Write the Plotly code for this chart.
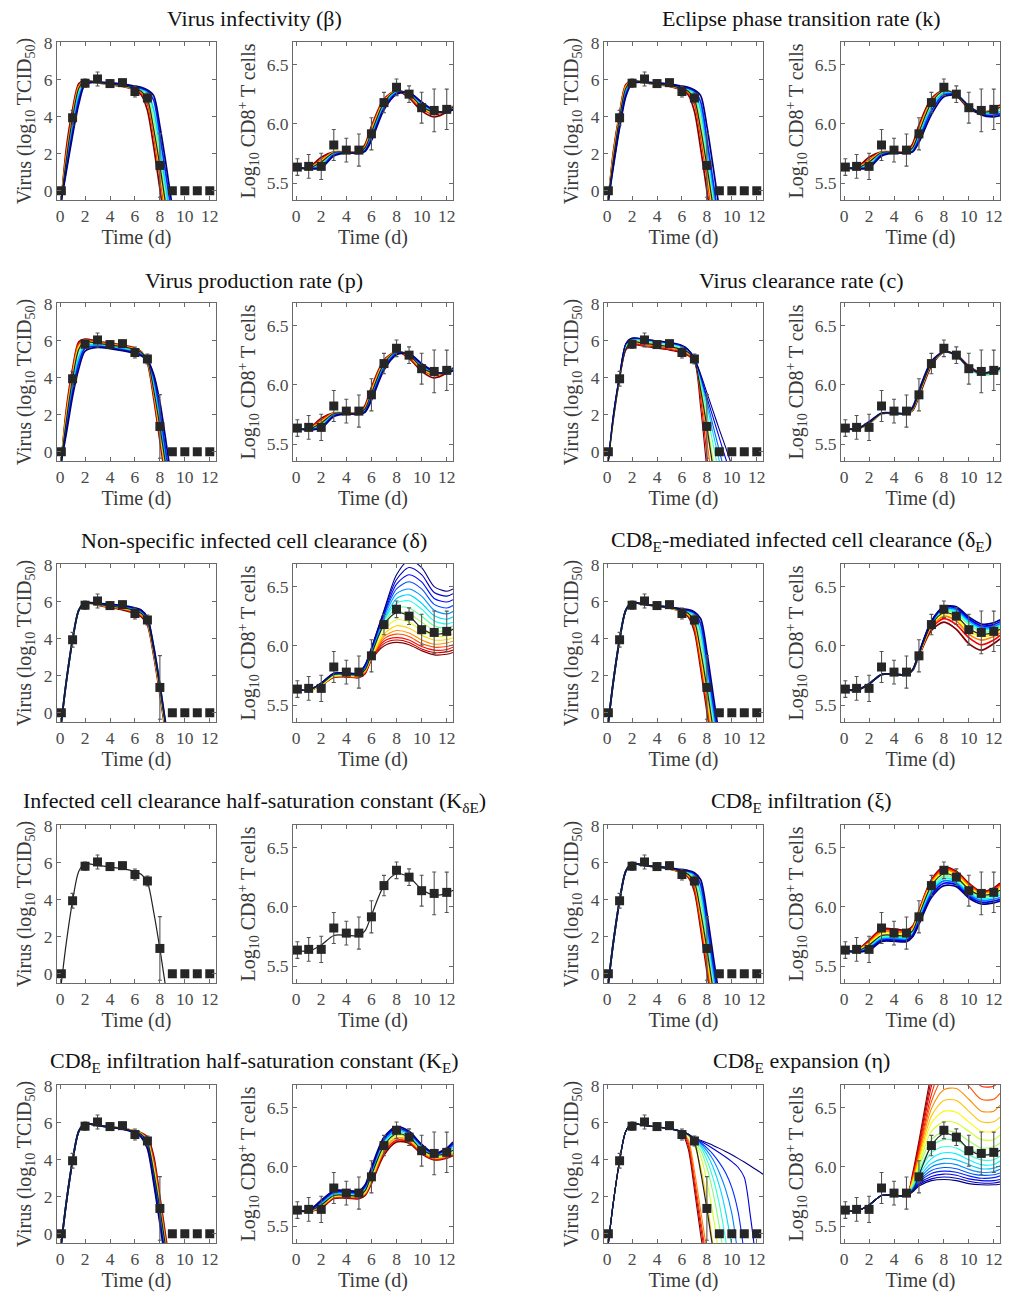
import plotly.graph_objects as go

# ---------------- data ----------------
T_DATA = [0.1, 1, 2, 3, 4, 5, 6, 7, 8, 9, 10, 11, 12]
VIRUS_DATA = [0.0, 3.95, 5.82, 6.05, 5.8, 5.85, 5.37, 5.02, 1.37, 0.0, 0.0, 0.0, 0.0]
VIRUS_ERR = [0.0, 0.4, 0.22, 0.38, 0.2, 0.18, 0.3, 0.27, 1.72, 0.0, 0.0, 0.0, 0.0]
CD8_DATA = [5.637, 5.643, 5.643, 5.823, 5.78, 5.78, 5.917, 6.18, 6.309, 6.251, 6.137, 6.114, 6.123]
CD8_ERR = [0.07, 0.1, 0.11, 0.13, 0.1, 0.135, 0.135, 0.086, 0.07, 0.07, 0.13, 0.18, 0.17]

# model time grids
TV = [0.1, 0.5, 1, 1.5, 2, 3, 4, 5, 6, 6.5, 7, 7.5, 8, 8.5, 9, 9.5, 10, 10.5, 11, 11.5, 12, 12.5]
TC = [0.1, 1, 2, 3, 4, 5, 5.5, 6, 7, 8, 9, 10, 11, 12, 12.5]

# best-fit model (black)
BASE_V = [-0.5, 1.7, 3.95, 5.55, 5.95, 5.86, 5.78, 5.69, 5.53, 5.38, 4.95, 3.35, 1.35, -0.9]
BASE_C = [5.632, 5.628, 5.68, 5.76, 5.762, 5.758, 5.80, 5.93, 6.18, 6.28, 6.25, 6.15, 6.10, 6.115, 6.14]

# sensitivity curves, listed from the red end to the blue end of the colour scale
BETA_V = [
    [-0.5, 2.3, 4.4, 5.8, 5.95, 5.84, 5.74, 5.64, 5.45, 5.2, 4.35, 2.4, 0.1, -2.2],
    [-0.5, 2.0, 4.15, 5.7, 5.95, 5.85, 5.76, 5.66, 5.5, 5.3, 4.7, 3.0, 0.8, -1.5],
    [-0.5, 1.8, 4.0, 5.6, 5.95, 5.86, 5.77, 5.68, 5.52, 5.36, 4.9, 3.3, 1.1, -1.2],
    [-0.5, 1.5, 3.7, 5.4, 5.9, 5.87, 5.79, 5.71, 5.56, 5.45, 5.15, 3.9, 1.8, -0.5, -2.8],
    [-0.5, 1.35, 3.45, 5.2, 5.85, 5.87, 5.8, 5.73, 5.6, 5.5, 5.3, 4.4, 2.4, 0.1, -2.2],
    [-0.5, 1.2, 3.2, 4.95, 5.8, 5.88, 5.82, 5.75, 5.63, 5.55, 5.4, 4.9, 3.0, 0.8, -1.5],
    [-0.5, 1.05, 3.0, 4.7, 5.75, 5.88, 5.83, 5.77, 5.66, 5.6, 5.45, 5.15, 3.5, 1.4, -0.9],
]
BETA_C = [
    [5.632, 5.632, 5.72, 5.765, 5.765, 5.765, 5.83, 5.98, 6.21, 6.28, 6.22, 6.11, 6.06, 6.10, 6.15],
    [5.632, 5.630, 5.70, 5.763, 5.763, 5.762, 5.815, 5.96, 6.20, 6.28, 6.235, 6.13, 6.08, 6.11, 6.145],
    [5.632, 5.628, 5.69, 5.762, 5.762, 5.760, 5.805, 5.945, 6.19, 6.28, 6.245, 6.14, 6.09, 6.115, 6.14],
    [5.632, 5.626, 5.665, 5.755, 5.76, 5.757, 5.79, 5.915, 6.165, 6.275, 6.255, 6.16, 6.10, 6.11, 6.135],
    [5.632, 5.625, 5.65, 5.75, 5.76, 5.755, 5.78, 5.90, 6.15, 6.27, 6.26, 6.17, 6.105, 6.105, 6.13],
    [5.632, 5.624, 5.64, 5.74, 5.758, 5.754, 5.775, 5.88, 6.135, 6.26, 6.265, 6.18, 6.11, 6.10, 6.125],
    [5.632, 5.623, 5.63, 5.73, 5.757, 5.753, 5.77, 5.86, 6.12, 6.25, 6.265, 6.185, 6.115, 6.10, 6.12],
]
K_V = [
    [-0.5, 2.1, 4.2, 5.75, 5.95, 5.85, 5.75, 5.65, 5.45, 5.2, 4.3, 2.3, 0.0, -2.3],
    [-0.5, 2.0, 4.1, 5.7, 5.95, 5.85, 5.76, 5.67, 5.5, 5.3, 4.7, 2.9, 0.7, -1.6],
    [-0.5, 1.8, 4.0, 5.6, 5.95, 5.86, 5.77, 5.68, 5.52, 5.37, 4.95, 3.3, 1.1, -1.2],
    [-0.5, 1.6, 3.8, 5.45, 5.9, 5.87, 5.79, 5.71, 5.56, 5.45, 5.15, 3.9, 1.7, -0.6, -2.9],
    [-0.5, 1.5, 3.65, 5.35, 5.88, 5.87, 5.8, 5.73, 5.6, 5.5, 5.3, 4.4, 2.3, 0.0, -2.3],
    [-0.5, 1.4, 3.5, 5.2, 5.85, 5.88, 5.82, 5.75, 5.63, 5.55, 5.4, 4.8, 2.8, 0.5, -1.8],
    [-0.5, 1.3, 3.4, 5.1, 5.8, 5.88, 5.83, 5.77, 5.66, 5.6, 5.45, 5.15, 3.5, 1.3, -1.0],
]
K_C = [
    [5.632, 5.632, 5.72, 5.765, 5.765, 5.765, 5.835, 5.99, 6.215, 6.285, 6.24, 6.13, 6.09, 6.13, 6.16],
    [5.632, 5.630, 5.70, 5.763, 5.763, 5.762, 5.815, 5.96, 6.20, 6.28, 6.245, 6.14, 6.095, 6.125, 6.15],
    [5.632, 5.628, 5.69, 5.762, 5.762, 5.760, 5.805, 5.945, 6.19, 6.28, 6.25, 6.145, 6.10, 6.12, 6.145],
    [5.632, 5.626, 5.665, 5.755, 5.76, 5.757, 5.785, 5.91, 6.16, 6.27, 6.25, 6.15, 6.095, 6.105, 6.125],
    [5.632, 5.625, 5.65, 5.748, 5.76, 5.755, 5.775, 5.89, 6.14, 6.26, 6.25, 6.15, 6.09, 6.09, 6.105],
    [5.632, 5.624, 5.64, 5.74, 5.758, 5.754, 5.77, 5.87, 6.11, 6.245, 6.245, 6.15, 6.08, 6.075, 6.085],
    [5.632, 5.623, 5.63, 5.73, 5.757, 5.753, 5.765, 5.845, 6.08, 6.23, 6.24, 6.15, 6.075, 6.06, 6.07],
]
P_V = [
    [-0.5, 2.3, 4.5, 5.95, 6.1, 5.98, 5.88, 5.78, 5.6, 5.42, 4.8, 2.9, 0.6, -1.7],
    [-0.5, 2.1, 4.3, 5.85, 6.05, 5.93, 5.84, 5.74, 5.57, 5.4, 4.9, 3.1, 0.9, -1.4],
    [-0.5, 1.9, 4.1, 5.7, 5.98, 5.88, 5.8, 5.7, 5.54, 5.38, 4.95, 3.3, 1.1, -1.2],
    [-0.5, 1.6, 3.8, 5.4, 5.85, 5.8, 5.73, 5.64, 5.48, 5.34, 5.0, 3.6, 1.4, -0.9],
    [-0.5, 1.4, 3.5, 5.1, 5.75, 5.75, 5.68, 5.58, 5.42, 5.3, 5.0, 3.85, 1.8, -0.5, -2.8],
    [-0.5, 1.2, 3.25, 4.8, 5.6, 5.7, 5.63, 5.52, 5.37, 5.25, 4.98, 4.05, 2.2, -0.1, -2.4],
    [-0.5, 1.0, 3.0, 4.5, 5.45, 5.65, 5.58, 5.47, 5.32, 5.2, 4.95, 4.2, 2.7, 0.5, -1.8],
]
P_C = [
    [5.632, 5.632, 5.72, 5.765, 5.765, 5.765, 5.83, 5.98, 6.21, 6.28, 6.225, 6.115, 6.06, 6.10, 6.145],
    [5.632, 5.630, 5.705, 5.763, 5.763, 5.762, 5.815, 5.96, 6.20, 6.28, 6.235, 6.13, 6.08, 6.11, 6.14],
    [5.632, 5.628, 5.69, 5.762, 5.762, 5.760, 5.805, 5.945, 6.19, 6.28, 6.245, 6.14, 6.09, 6.115, 6.14],
    [5.632, 5.626, 5.67, 5.756, 5.76, 5.757, 5.79, 5.92, 6.17, 6.275, 6.255, 6.155, 6.10, 6.11, 6.135],
    [5.632, 5.625, 5.655, 5.75, 5.76, 5.755, 5.782, 5.905, 6.155, 6.27, 6.26, 6.165, 6.105, 6.105, 6.13],
    [5.632, 5.624, 5.645, 5.742, 5.758, 5.754, 5.776, 5.89, 6.14, 6.265, 6.262, 6.175, 6.11, 6.10, 6.125],
    [5.632, 5.623, 5.635, 5.735, 5.757, 5.753, 5.772, 5.87, 6.125, 6.255, 6.265, 6.18, 6.115, 6.10, 6.12],
]
C_V = [
    [-0.5, 1.8, 3.9, 5.5, 5.78, 5.7, 5.6, 5.5, 5.35, 5.2, 4.9, 2.4, -1.0],
    [-0.5, 1.8, 3.95, 5.55, 5.83, 5.75, 5.65, 5.55, 5.4, 5.25, 4.95, 2.9, -0.2, -3.3],
    [-0.5, 1.85, 4.0, 5.6, 5.88, 5.8, 5.7, 5.6, 5.45, 5.3, 4.97, 3.2, 0.6, -2.0],
    [-0.5, 1.85, 4.0, 5.65, 5.95, 5.86, 5.76, 5.66, 5.5, 5.33, 5.0, 3.4, 1.2, -1.0],
    [-0.5, 1.9, 4.05, 5.7, 6.0, 5.92, 5.82, 5.72, 5.56, 5.38, 5.0, 3.6, 1.6, -0.4, -2.4],
    [-0.5, 1.9, 4.05, 5.75, 6.05, 5.98, 5.88, 5.78, 5.62, 5.42, 5.02, 3.8, 2.1, 0.4, -1.3],
    [-0.5, 1.95, 4.1, 5.8, 6.1, 6.03, 5.93, 5.84, 5.68, 5.46, 5.04, 3.95, 2.5, 1.0, -0.5, -2.0],
    [-0.5, 1.95, 4.1, 5.82, 6.13, 6.07, 5.97, 5.88, 5.72, 5.5, 5.05, 4.05, 2.75, 1.4, 0.05, -1.3],
    [-0.5, 2.0, 4.12, 5.84, 6.14, 6.09, 5.99, 5.9, 5.74, 5.52, 5.05, 4.1, 2.95, 1.85, 0.75, -0.35, -1.45],
    [-0.5, 2.0, 4.15, 5.85, 6.15, 6.1, 6.0, 5.92, 5.76, 5.54, 5.06, 4.2, 3.2, 2.2, 1.2, 0.25, -0.75],
]
C_C = [
    [5.632, 5.628, 5.675, 5.758, 5.76, 5.756, 5.785, 5.90, 6.16, 6.275, 6.255, 6.16, 6.10, 6.115, 6.14],
    [5.632, 5.628, 5.678, 5.759, 5.761, 5.757, 5.795, 5.92, 6.175, 6.28, 6.25, 6.15, 6.10, 6.115, 6.14],
    [5.632, 5.628, 5.68, 5.76, 5.762, 5.758, 5.80, 5.93, 6.18, 6.28, 6.245, 6.14, 6.085, 6.095, 6.12],
    [5.632, 5.629, 5.685, 5.762, 5.763, 5.76, 5.81, 5.945, 6.19, 6.28, 6.25, 6.145, 6.095, 6.11, 6.135],
    [5.632, 5.629, 5.69, 5.764, 5.764, 5.762, 5.815, 5.955, 6.20, 6.28, 6.25, 6.15, 6.10, 6.12, 6.145],
]
DELTA_V = [
    [-0.5, 1.7, 3.95, 5.55, 5.95, 5.82, 5.7, 5.57, 5.38, 5.2, 4.75, 3.1, 1.0, -1.3],
    [-0.5, 1.7, 3.95, 5.55, 5.95, 5.84, 5.73, 5.62, 5.44, 5.28, 4.85, 3.25, 1.15, -1.1],
    [-0.5, 1.7, 3.95, 5.55, 5.95, 5.85, 5.76, 5.66, 5.5, 5.35, 4.95, 3.35, 1.3, -1.0],
    [-0.5, 1.7, 3.95, 5.55, 5.95, 5.88, 5.81, 5.73, 5.58, 5.45, 5.05, 3.45, 1.4, -0.9],
    [-0.5, 1.7, 3.95, 5.55, 5.95, 5.9, 5.84, 5.77, 5.63, 5.5, 5.1, 3.55, 1.5, -0.8],
    [-0.5, 1.7, 3.95, 5.55, 5.95, 5.92, 5.87, 5.81, 5.68, 5.56, 5.15, 3.6, 1.55, -0.75],
]
DELTA_C = [
    [5.632, 5.626, 5.665, 5.735, 5.738, 5.732, 5.765, 5.88, 6.00, 6.03, 6.01, 5.96, 5.925, 5.93, 5.945],
    [5.632, 5.626, 5.666, 5.737, 5.740, 5.735, 5.77, 5.885, 6.02, 6.05, 6.03, 5.975, 5.945, 5.95, 5.965],
    [5.632, 5.626, 5.667, 5.739, 5.742, 5.738, 5.775, 5.89, 6.04, 6.07, 6.05, 5.995, 5.965, 5.97, 5.99],
    [5.632, 5.626, 5.668, 5.741, 5.744, 5.741, 5.78, 5.895, 6.06, 6.10, 6.08, 6.02, 5.99, 5.995, 6.01],
    [5.632, 5.626, 5.669, 5.743, 5.746, 5.744, 5.785, 5.90, 6.08, 6.13, 6.11, 6.05, 6.015, 6.025, 6.04],
    [5.632, 5.627, 5.670, 5.745, 5.748, 5.747, 5.79, 5.905, 6.10, 6.17, 6.15, 6.09, 6.05, 6.055, 6.07],
    [5.632, 5.627, 5.672, 5.748, 5.751, 5.75, 5.795, 5.91, 6.13, 6.22, 6.20, 6.13, 6.085, 6.085, 6.10],
    [5.632, 5.627, 5.675, 5.752, 5.755, 5.754, 5.80, 5.925, 6.17, 6.28, 6.27, 6.20, 6.135, 6.125, 6.145],
    [5.632, 5.627, 5.677, 5.755, 5.758, 5.757, 5.81, 5.935, 6.19, 6.32, 6.32, 6.25, 6.17, 6.15, 6.17],
    [5.632, 5.627, 5.679, 5.758, 5.761, 5.76, 5.815, 5.945, 6.21, 6.36, 6.38, 6.31, 6.21, 6.185, 6.20],
    [5.632, 5.628, 5.681, 5.761, 5.764, 5.763, 5.82, 5.955, 6.22, 6.40, 6.43, 6.36, 6.255, 6.225, 6.245],
    [5.632, 5.628, 5.683, 5.764, 5.767, 5.766, 5.825, 5.96, 6.24, 6.44, 6.48, 6.42, 6.30, 6.27, 6.29],
    [5.632, 5.628, 5.685, 5.766, 5.769, 5.768, 5.83, 5.97, 6.26, 6.48, 6.54, 6.48, 6.35, 6.32, 6.34],
    [5.632, 5.628, 5.687, 5.768, 5.771, 5.77, 5.835, 5.975, 6.27, 6.52, 6.60, 6.54, 6.40, 6.37, 6.39],
    [5.632, 5.628, 5.689, 5.770, 5.773, 5.772, 5.84, 5.98, 6.29, 6.56, 6.66, 6.60, 6.45, 6.42, 6.44],
    [5.632, 5.628, 5.690, 5.772, 5.775, 5.774, 5.845, 5.985, 6.30, 6.60, 6.72, 6.66, 6.50, 6.46, 6.48],
]
DELTAE_V = [
    [-0.5, 1.7, 3.95, 5.55, 5.95, 5.86, 5.77, 5.67, 5.45, 5.2, 4.4, 2.4, 0.1, -2.2],
    [-0.5, 1.7, 3.95, 5.55, 5.95, 5.86, 5.78, 5.68, 5.48, 5.28, 4.6, 2.7, 0.45, -1.85],
    [-0.5, 1.7, 3.95, 5.55, 5.95, 5.86, 5.78, 5.68, 5.5, 5.33, 4.85, 3.1, 0.9, -1.4],
    [-0.5, 1.7, 3.95, 5.55, 5.95, 5.86, 5.78, 5.69, 5.55, 5.45, 5.15, 3.9, 1.7, -0.6, -2.9],
    [-0.5, 1.7, 3.95, 5.55, 5.95, 5.86, 5.78, 5.7, 5.58, 5.5, 5.3, 4.4, 2.3, 0.0, -2.3],
    [-0.5, 1.7, 3.95, 5.55, 5.95, 5.86, 5.78, 5.71, 5.6, 5.54, 5.4, 4.8, 2.8, 0.5, -1.8],
    [-0.5, 1.7, 3.95, 5.55, 5.95, 5.86, 5.78, 5.72, 5.62, 5.58, 5.46, 5.1, 3.3, 1.0, -1.3],
]
DELTAE_C = [
    [5.632, 5.628, 5.68, 5.76, 5.762, 5.758, 5.795, 5.915, 6.13, 6.20, 6.14, 6.02, 5.965, 6.02, 6.06],
    [5.632, 5.628, 5.68, 5.76, 5.762, 5.758, 5.797, 5.92, 6.15, 6.23, 6.18, 6.07, 6.01, 6.05, 6.09],
    [5.632, 5.628, 5.68, 5.76, 5.762, 5.758, 5.798, 5.925, 6.165, 6.25, 6.21, 6.10, 6.05, 6.08, 6.11],
    [5.632, 5.628, 5.68, 5.76, 5.762, 5.758, 5.80, 5.928, 6.175, 6.27, 6.235, 6.13, 6.08, 6.10, 6.13],
    [5.632, 5.628, 5.68, 5.76, 5.762, 5.758, 5.80, 5.932, 6.19, 6.295, 6.27, 6.18, 6.12, 6.13, 6.16],
    [5.632, 5.628, 5.68, 5.76, 5.762, 5.758, 5.80, 5.934, 6.195, 6.305, 6.29, 6.20, 6.14, 6.15, 6.175],
    [5.632, 5.628, 5.68, 5.76, 5.762, 5.758, 5.80, 5.936, 6.20, 6.315, 6.305, 6.215, 6.155, 6.165, 6.19],
    [5.632, 5.628, 5.68, 5.76, 5.762, 5.758, 5.80, 5.938, 6.205, 6.325, 6.32, 6.23, 6.17, 6.18, 6.205],
    [5.632, 5.628, 5.68, 5.76, 5.762, 5.758, 5.80, 5.94, 6.21, 6.33, 6.33, 6.245, 6.185, 6.195, 6.22],
]
XI_V = [
    [-0.5, 1.7, 3.95, 5.55, 5.95, 5.86, 5.77, 5.67, 5.46, 5.22, 4.45, 2.45, 0.15, -2.15],
    [-0.5, 1.7, 3.95, 5.55, 5.95, 5.86, 5.78, 5.68, 5.48, 5.28, 4.65, 2.75, 0.5, -1.8],
    [-0.5, 1.7, 3.95, 5.55, 5.95, 5.86, 5.78, 5.69, 5.51, 5.34, 4.88, 3.15, 0.95, -1.35],
    [-0.5, 1.7, 3.95, 5.55, 5.95, 5.86, 5.78, 5.7, 5.56, 5.45, 5.15, 3.9, 1.7, -0.6, -2.9],
    [-0.5, 1.7, 3.95, 5.55, 5.95, 5.86, 5.79, 5.71, 5.59, 5.51, 5.3, 4.4, 2.3, 0.0, -2.3],
    [-0.5, 1.7, 3.95, 5.55, 5.95, 5.86, 5.79, 5.72, 5.61, 5.55, 5.4, 4.8, 2.8, 0.5, -1.8],
    [-0.5, 1.7, 3.95, 5.55, 5.95, 5.86, 5.79, 5.73, 5.63, 5.59, 5.47, 5.1, 3.3, 1.0, -1.3],
]
XI_C = [
    [5.632, 5.635, 5.72, 5.815, 5.815, 5.805, 5.84, 5.97, 6.23, 6.335, 6.30, 6.20, 6.13, 6.16, 6.20],
    [5.632, 5.634, 5.71, 5.805, 5.805, 5.795, 5.83, 5.96, 6.22, 6.325, 6.29, 6.19, 6.125, 6.15, 6.19],
    [5.632, 5.632, 5.70, 5.79, 5.79, 5.785, 5.82, 5.95, 6.21, 6.31, 6.28, 6.18, 6.115, 6.14, 6.175],
    [5.632, 5.63, 5.69, 5.775, 5.775, 5.77, 5.81, 5.94, 6.19, 6.295, 6.265, 6.165, 6.105, 6.125, 6.155],
    [5.632, 5.627, 5.675, 5.75, 5.752, 5.748, 5.79, 5.915, 6.16, 6.26, 6.235, 6.14, 6.085, 6.10, 6.12],
    [5.632, 5.625, 5.665, 5.74, 5.742, 5.738, 5.78, 5.90, 6.14, 6.24, 6.215, 6.12, 6.07, 6.08, 6.10],
    [5.632, 5.623, 5.655, 5.73, 5.732, 5.728, 5.77, 5.885, 6.12, 6.22, 6.20, 6.105, 6.055, 6.065, 6.08],
    [5.632, 5.621, 5.645, 5.72, 5.722, 5.718, 5.76, 5.87, 6.10, 6.20, 6.185, 6.09, 6.04, 6.05, 6.065],
    [5.632, 5.62, 5.635, 5.71, 5.712, 5.708, 5.75, 5.855, 6.08, 6.18, 6.17, 6.075, 6.025, 6.035, 6.05],
]
KE_V = [
    [-0.5, 1.7, 3.95, 5.55, 5.95, 5.86, 5.78, 5.7, 5.56, 5.46, 5.25, 4.2, 2.0, -0.3, -2.6],
    [-0.5, 1.7, 3.95, 5.55, 5.95, 5.86, 5.78, 5.7, 5.55, 5.44, 5.15, 3.95, 1.75, -0.55, -2.85],
    [-0.5, 1.7, 3.95, 5.55, 5.95, 5.86, 5.78, 5.69, 5.54, 5.41, 5.05, 3.65, 1.5, -0.8],
    [-0.5, 1.7, 3.95, 5.55, 5.95, 5.86, 5.78, 5.69, 5.53, 5.38, 4.98, 3.45, 1.3, -1.0],
    [-0.5, 1.7, 3.95, 5.55, 5.95, 5.86, 5.77, 5.68, 5.51, 5.33, 4.85, 3.2, 1.0, -1.3],
    [-0.5, 1.7, 3.95, 5.55, 5.95, 5.86, 5.77, 5.67, 5.49, 5.28, 4.72, 2.95, 0.75, -1.55],
    [-0.5, 1.7, 3.95, 5.55, 5.95, 5.86, 5.77, 5.66, 5.47, 5.22, 4.6, 2.75, 0.55, -1.75],
]
KE_C = [
    [5.632, 5.625, 5.655, 5.735, 5.738, 5.733, 5.76, 5.86, 6.10, 6.21, 6.20, 6.11, 6.06, 6.075, 6.095],
    [5.632, 5.626, 5.662, 5.742, 5.745, 5.741, 5.77, 5.875, 6.12, 6.225, 6.21, 6.12, 6.065, 6.08, 6.10],
    [5.632, 5.627, 5.67, 5.75, 5.752, 5.748, 5.78, 5.89, 6.14, 6.245, 6.225, 6.13, 6.075, 6.09, 6.115],
    [5.632, 5.628, 5.675, 5.755, 5.757, 5.753, 5.79, 5.91, 6.16, 6.265, 6.24, 6.14, 6.085, 6.10, 6.125],
    [5.632, 5.629, 5.69, 5.77, 5.772, 5.768, 5.815, 5.95, 6.20, 6.295, 6.265, 6.165, 6.10, 6.125, 6.16],
    [5.632, 5.63, 5.70, 5.78, 5.782, 5.778, 5.83, 5.965, 6.22, 6.31, 6.28, 6.175, 6.105, 6.14, 6.18],
    [5.632, 5.631, 5.71, 5.79, 5.792, 5.788, 5.84, 5.98, 6.235, 6.325, 6.29, 6.185, 6.11, 6.15, 6.195],
    [5.632, 5.632, 5.72, 5.80, 5.802, 5.798, 5.85, 5.995, 6.25, 6.34, 6.30, 6.19, 6.115, 6.16, 6.21],
]
ETA_V = [
    [-0.5, 1.7, 3.95, 5.55, 5.95, 5.86, 5.78, 5.69, 5.45, 4.6, 2.4, -0.05, -2.3],
    [-0.5, 1.7, 3.95, 5.55, 5.95, 5.86, 5.78, 5.69, 5.47, 4.8, 2.7, 0.4, -1.85],
    [-0.5, 1.7, 3.95, 5.55, 5.95, 5.86, 5.78, 5.69, 5.49, 4.95, 3.0, 0.75, -1.5],
    [-0.5, 1.7, 3.95, 5.55, 5.95, 5.86, 5.78, 5.69, 5.5, 5.1, 3.4, 1.25, -0.9],
    [-0.5, 1.7, 3.95, 5.55, 5.95, 5.86, 5.78, 5.69, 5.52, 5.3, 4.8, 3.6, 1.8, -0.7],
    [-0.5, 1.7, 3.95, 5.55, 5.95, 5.86, 5.78, 5.69, 5.52, 5.32, 4.95, 4.2, 2.85, 1.0, -1.3],
    [-0.5, 1.7, 3.95, 5.55, 5.95, 5.86, 5.78, 5.69, 5.53, 5.34, 5.02, 4.5, 3.6, 2.2, 0.4, -1.8],
    [-0.5, 1.7, 3.95, 5.55, 5.95, 5.86, 5.78, 5.69, 5.53, 5.35, 5.06, 4.7, 4.0, 3.0, 1.6, -0.3, -2.4],
    [-0.5, 1.7, 3.95, 5.55, 5.95, 5.86, 5.78, 5.69, 5.53, 5.36, 5.09, 4.8, 4.3, 3.6, 2.6, 1.2, -0.7],
    [-0.5, 1.7, 3.95, 5.55, 5.95, 5.86, 5.78, 5.69, 5.53, 5.37, 5.11, 4.88, 4.5, 4.0, 3.3, 2.4, 1.1, -1.2],
    [-0.5, 1.7, 3.95, 5.55, 5.95, 5.86, 5.78, 5.69, 5.53, 5.38, 5.13, 4.94, 4.65, 4.3, 3.85, 3.3, 2.5, 1.2, -1.1],
    [-0.5, 1.7, 3.95, 5.55, 5.95, 5.86, 5.78, 5.69, 5.53, 5.39, 5.15, 5.0, 4.82, 4.6, 4.38, 4.15, 3.9, 3.6, 3.05, 0.9, -1.8],
    [-0.5, 1.7, 3.95, 5.55, 5.95, 5.86, 5.78, 5.69, 5.53, 5.4, 5.18, 5.06, 4.92, 4.78, 4.62, 4.45, 4.27, 4.08, 3.88, 3.67, 3.45, 3.22],
]
ETA_C = [
    [5.632, 5.628, 5.68, 5.76, 5.762, 5.758, 5.95, 6.22, 6.80, 7.30, 7.40, 7.30, 7.20, 7.20, 7.25],
    [5.632, 5.628, 5.68, 5.76, 5.762, 5.758, 5.93, 6.19, 6.74, 7.15, 7.20, 7.10, 7.00, 7.00, 7.05],
    [5.632, 5.628, 5.68, 5.76, 5.762, 5.758, 5.92, 6.16, 6.68, 7.00, 7.05, 6.95, 6.83, 6.84, 6.88],
    [5.632, 5.628, 5.68, 5.76, 5.762, 5.758, 5.91, 6.13, 6.61, 6.88, 6.90, 6.80, 6.68, 6.68, 6.73],
    [5.632, 5.628, 5.68, 5.76, 5.762, 5.758, 5.90, 6.11, 6.55, 6.76, 6.78, 6.68, 6.57, 6.57, 6.62],
    [5.632, 5.628, 5.68, 5.76, 5.762, 5.758, 5.89, 6.09, 6.49, 6.65, 6.66, 6.57, 6.47, 6.47, 6.52],
    [5.632, 5.628, 5.68, 5.76, 5.762, 5.758, 5.88, 6.06, 6.43, 6.56, 6.56, 6.47, 6.38, 6.38, 6.42],
    [5.632, 5.628, 5.68, 5.76, 5.762, 5.758, 5.87, 6.04, 6.37, 6.47, 6.46, 6.38, 6.30, 6.30, 6.34],
    [5.632, 5.628, 5.68, 5.76, 5.762, 5.758, 5.86, 6.02, 6.30, 6.38, 6.37, 6.30, 6.23, 6.23, 6.27],
    [5.632, 5.628, 5.68, 5.76, 5.762, 5.758, 5.85, 6.00, 6.23, 6.30, 6.29, 6.22, 6.16, 6.17, 6.20],
    [5.632, 5.628, 5.68, 5.76, 5.762, 5.758, 5.84, 5.97, 6.17, 6.23, 6.22, 6.16, 6.11, 6.11, 6.14],
    [5.632, 5.628, 5.68, 5.76, 5.762, 5.758, 5.83, 5.95, 6.12, 6.17, 6.16, 6.10, 6.06, 6.06, 6.09],
    [5.632, 5.628, 5.68, 5.76, 5.762, 5.758, 5.825, 5.93, 6.07, 6.12, 6.11, 6.06, 6.02, 6.02, 6.05],
    [5.632, 5.628, 5.68, 5.76, 5.762, 5.758, 5.82, 5.91, 6.03, 6.07, 6.06, 6.02, 5.985, 5.99, 6.01],
    [5.632, 5.628, 5.68, 5.76, 5.762, 5.758, 5.815, 5.895, 6.00, 6.03, 6.02, 5.98, 5.955, 5.96, 5.98],
    [5.632, 5.628, 5.68, 5.76, 5.762, 5.758, 5.81, 5.88, 5.97, 5.995, 5.985, 5.95, 5.93, 5.935, 5.95],
    [5.632, 5.628, 5.68, 5.76, 5.762, 5.758, 5.805, 5.87, 5.945, 5.965, 5.955, 5.925, 5.905, 5.91, 5.925],
    [5.632, 5.628, 5.68, 5.76, 5.762, 5.758, 5.80, 5.86, 5.92, 5.94, 5.93, 5.90, 5.885, 5.885, 5.895],
    [5.632, 5.628, 5.68, 5.76, 5.762, 5.758, 5.795, 5.85, 5.90, 5.915, 5.905, 5.88, 5.865, 5.865, 5.875],
    [5.632, 5.628, 5.68, 5.76, 5.762, 5.758, 5.79, 5.84, 5.885, 5.895, 5.885, 5.86, 5.85, 5.85, 5.855],
]

TITLES = [
    "Virus infectivity (β)",
    "Eclipse phase transition rate (k)",
    "Virus production rate (p)",
    "Virus clearance rate (c)",
    "Non-specific infected cell clearance (δ)",
    "CD8<sub>E</sub>-mediated infected cell clearance (δ<sub>E</sub>)",
    "Infected cell clearance half-saturation constant (K<sub>δE</sub>)",
    "CD8<sub>E</sub> infiltration (ξ)",
    "CD8<sub>E</sub> infiltration half-saturation constant (K<sub>E</sub>)",
    "CD8<sub>E</sub> expansion (η)",
]
PANEL_V = [BETA_V, K_V, P_V, C_V, DELTA_V, DELTAE_V, [], XI_V, KE_V, ETA_V]
PANEL_C = [BETA_C, K_C, P_C, C_C, DELTA_C, DELTAE_C, [], XI_C, KE_C, ETA_C]

X_TICKS = [0, 2, 4, 6, 8, 10, 12]
V_TICKS = [0, 2, 4, 6, 8]
C_TICKS = [5.5, 6.0, 6.5]

# ---------------- styling ----------------
W, H = 1013, 1292
FONT = "Liberation Serif"
COL_X = [((57, 216), (293, 453)), ((604, 763), (841, 1000))]
ROW_TOP = [42, 303, 564, 825, 1085]
BOX_H = 158
TITLE_X = [254, 801]


def px_x(p):
    return p / W


def px_y(p):
    return 1 - p / H


def jet(x):
    def c(v):
        return max(0.0, min(1.0, v))
    r = c(1.5 - abs(4 * x - 3))
    g = c(1.5 - abs(4 * x - 2))
    b = c(1.5 - abs(4 * x - 1))
    return "rgb(%d,%d,%d)" % (round(r * 255), round(g * 255), round(b * 255))


fig = go.Figure()
layout = {}
annotations = []

for j in range(10):
    row, col = j // 2, j % 2
    top = ROW_TOP[row]
    bottom = top + BOX_H
    ydom = [px_y(bottom), px_y(top)]
    for k, kind in enumerate(["v", "c"]):
        idx = 2 * j + k + 1
        xa = "x" if idx == 1 else "x%d" % idx
        ya = "y" if idx == 1 else "y%d" % idx
        xl, xr = COL_X[col][k]
        curves = PANEL_V[j] if kind == "v" else PANEL_C[j]
        tgrid = TV if kind == "v" else TC
        n = len(curves)
        many = n > 9
        for i, vals in enumerate(curves):
            frac = 1 - i / (n - 1) if n > 1 else 0.5
            fig.add_trace(go.Scatter(
                x=tgrid[:len(vals)], y=vals, mode="lines",
                line=dict(color=jet(frac), width=1.1 if many else 1.7, shape="spline", smoothing=0.8),
                xaxis=xa, yaxis=ya, showlegend=False, hoverinfo="skip"))
        base = BASE_V if kind == "v" else BASE_C
        fig.add_trace(go.Scatter(
            x=tgrid[:len(base)], y=base, mode="lines",
            line=dict(color="#222222", width=1.2, shape="spline", smoothing=0.8),
            xaxis=xa, yaxis=ya, showlegend=False, hoverinfo="skip"))
        dat = VIRUS_DATA if kind == "v" else CD8_DATA
        err = VIRUS_ERR if kind == "v" else CD8_ERR
        fig.add_trace(go.Scatter(
            x=T_DATA, y=dat, mode="markers",
            marker=dict(symbol="square", size=9, color="#262626"),
            error_y=dict(type="data", array=err, visible=True, color="#555555", thickness=1.1, width=2),
            xaxis=xa, yaxis=ya, showlegend=False, hoverinfo="skip", cliponaxis=False))

        common = dict(showline=True, mirror="allticks", linecolor="#6a6a6a", linewidth=1,
                      ticks="inside", ticklen=4, tickcolor="#6a6a6a", showgrid=False, zeroline=False,
                      tickfont=dict(family=FONT, size=17.5, color="#4a4a4a"), automargin=False)
        layout["xaxis" if idx == 1 else "xaxis%d" % idx] = dict(
            domain=[px_x(xl), px_x(xr)], anchor=ya, range=[-0.25, 12.5], tickvals=X_TICKS,
            title=dict(text="Time (d)", font=dict(family=FONT, size=20, color="#3a3a3a"), standoff=0),
            **common)
        if kind == "v":
            yl = dict(range=[-0.5, 8.05], tickvals=V_TICKS,
                      title=dict(text="Virus (log<sub>10</sub> TCID<sub>50</sub>)",
                                 font=dict(family=FONT, size=20, color="#3a3a3a"), standoff=6))
        else:
            yl = dict(range=[5.36, 6.69], tickvals=C_TICKS, tickformat=".1f",
                      title=dict(text="Log<sub>10</sub> CD8<sup>+</sup> T cells",
                                 font=dict(family=FONT, size=20, color="#3a3a3a"), standoff=5))
        layout["yaxis" if idx == 1 else "yaxis%d" % idx] = dict(
            domain=ydom, anchor=xa, **yl, **common)

    annotations.append(dict(
        text=TITLES[j], x=px_x(TITLE_X[col]), y=px_y(top - 23), xref="paper", yref="paper",
        showarrow=False, xanchor="center", yanchor="middle",
        font=dict(family=FONT, size=22, color="#111111")))

fig.update_layout(**layout)
fig.update_layout(
    width=W, height=H, margin=dict(l=0, r=0, t=0, b=0),
    paper_bgcolor="white", plot_bgcolor="white",
    annotations=annotations, showlegend=False)

fig.write_html(
    "out.html",
    config={"displayModeBar": False, "staticPlot": True},
    post_script="document.body.style.margin='0';document.documentElement.style.overflow='hidden';"
                "document.body.style.overflow='hidden';")
